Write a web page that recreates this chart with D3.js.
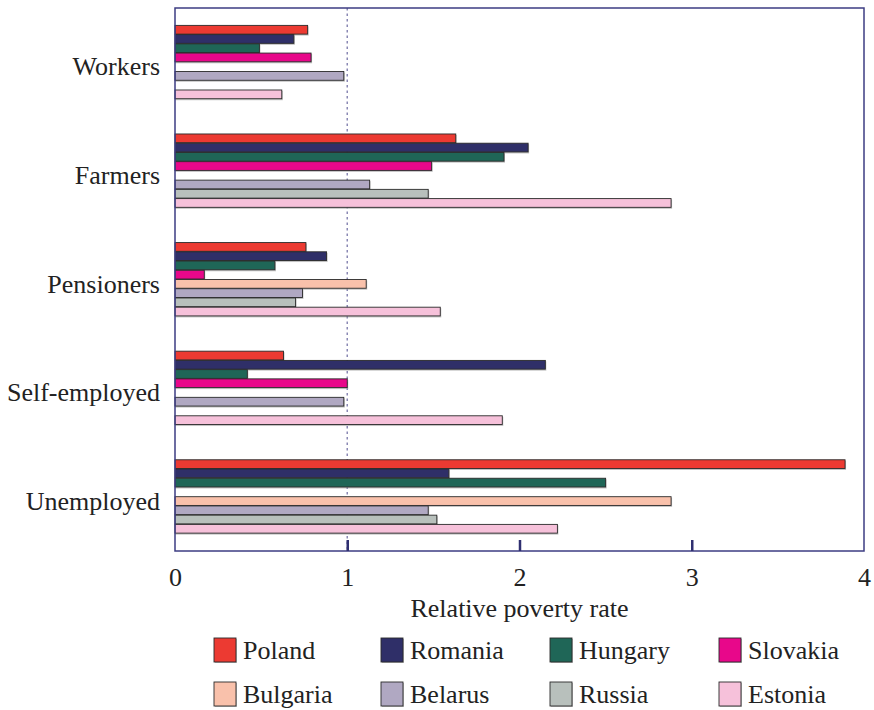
<!DOCTYPE html>
<html>
<head>
<meta charset="utf-8">
<script src="https://cdn.jsdelivr.net/npm/d3@7"></script>
<style>
  html, body { margin: 0; padding: 0; background: #fff; }
  svg { display: block; }
  text { font-family: "Liberation Serif", "Times New Roman", serif; fill: #222; }
</style>
</head>
<body>
<svg id="chart" width="874" height="710"></svg>
<script>
// ---- data ----
const categories = ["Workers", "Farmers", "Pensioners", "Self-employed", "Unemployed"];
const countries = ["Poland", "Romania", "Hungary", "Slovakia", "Bulgaria", "Belarus", "Russia", "Estonia"];
const colors = ["#ec3a32", "#2f2f68", "#1f6657", "#e8078a", "#f9c1ab", "#b0a8c2", "#b8c0bc", "#f6c1da"];
// values per country, in category order (null = no data)
const poland   = [0.77, 1.63, 0.76, 0.63, 3.89];
const romania  = [0.69, 2.05, 0.88, 2.15, 1.59];
const hungary  = [0.49, 1.91, 0.58, 0.42, 2.50];
const slovakia = [0.79, 1.49, 0.17, 1.00, null];
const bulgaria = [null, null, 1.11, null, 2.88];
const belarus  = [0.98, 1.13, 0.74, 0.98, 1.47];
const russia   = [null, 1.47, 0.70, null, 1.52];
const estonia  = [0.62, 2.88, 1.54, 1.90, 2.22];
const seriesValues = [poland, romania, hungary, slovakia, bulgaria, belarus, russia, estonia];
const xTicks = [0, 1, 2, 3, 4];
const xTitle = "Relative poverty rate";

// ---- layout ----
const svg = d3.select("#chart");
const L = 175, R = 864, T = 8, B = 551;
const FS = 26;

const x = d3.scaleLinear().domain([0, 4]).range([L, R]);
const y0 = d3.scaleBand().domain(categories).range([T, B]).paddingInner(0.32).paddingOuter(0.16);
const y1 = d3.scaleBand().domain(countries).range([0, y0.bandwidth()]);

// reference dashed line at 1
svg.append("line")
  .attr("x1", x(1)).attr("x2", x(1))
  .attr("y1", T).attr("y2", B)
  .attr("stroke", "#8a88b4").attr("stroke-width", 1.5)
  .attr("stroke-dasharray", "2.5,3");

// bars
const barData = [];
categories.forEach((c, ci) => {
  countries.forEach((k, ki) => {
    const v = seriesValues[ki][ci];
    if (v != null) barData.push({ cat: c, country: k, value: v, color: colors[ki] });
  });
});

const g = svg.append("g");
// soft shadow
g.selectAll("rect.shadow").data(barData).join("rect")
  .attr("class", "shadow")
  .attr("x", x(0))
  .attr("y", d => y0(d.cat) + y1(d.country) + 1)
  .attr("width", d => x(d.value) - x(0) + 1)
  .attr("height", y1.bandwidth())
  .attr("fill", "#9a9a9a").attr("opacity", 0.6);
g.selectAll("rect.bar").data(barData).join("rect")
  .attr("class", "bar")
  .attr("x", x(0))
  .attr("y", d => y0(d.cat) + y1(d.country))
  .attr("width", d => x(d.value) - x(0))
  .attr("height", y1.bandwidth() - 0.5)
  .attr("fill", d => d.color)
  .attr("stroke", "#2a2a2a").attr("stroke-width", 0.9);

// frame
svg.append("rect")
  .attr("x", L).attr("y", T).attr("width", R - L).attr("height", B - T)
  .attr("fill", "none").attr("stroke", "#3d3d82").attr("stroke-width", 1.5);

// x axis (ticks pointing inward)
const xAxis = svg.append("g")
  .attr("transform", `translate(0,${B})`)
  .call(d3.axisBottom(x).tickValues(xTicks).tickFormat(d3.format("d"))
    .tickSizeInner(-11).tickSizeOuter(0).tickPadding(17));
xAxis.select(".domain").remove();
xAxis.selectAll(".tick line").attr("stroke", "#2f2f70").attr("stroke-width", 2.5)
  .attr("display", d => (d === 0 || d === 4) ? "none" : null);
xAxis.selectAll(".tick text").attr("font-size", FS).attr("fill", "#222")
  .attr("font-family", "Liberation Serif, serif");

svg.append("text")
  .attr("x", (x(0) + x(4)) / 2).attr("y", 617)
  .attr("text-anchor", "middle").attr("font-size", FS)
  .text(xTitle);

// category axis
const yAxis = svg.append("g")
  .attr("transform", `translate(${L},0)`)
  .call(d3.axisLeft(y0).tickSize(0).tickPadding(15));
yAxis.select(".domain").remove();
yAxis.selectAll(".tick text").attr("font-size", FS).attr("fill", "#222")
  .attr("dy", "0.5em").attr("font-family", "Liberation Serif, serif");

// legend
const legendCols = [214, 381, 550, 719];
const legendRows = [638, 682];
const lg = svg.append("g");
countries.forEach((k, i) => {
  const cx = legendCols[i % 4], cy = legendRows[Math.floor(i / 4)];
  lg.append("rect").attr("x", cx + 1).attr("y", cy + 1).attr("width", 22).attr("height", 24)
    .attr("fill", "#999").attr("opacity", 0.6);
  lg.append("rect").attr("x", cx).attr("y", cy).attr("width", 22).attr("height", 24)
    .attr("fill", colors[i]).attr("stroke", "#2a2a2a").attr("stroke-width", 0.9);
  lg.append("text").attr("x", cx + 29).attr("y", cy + 21)
    .attr("font-size", FS).text(k);
});
</script>
</body>
</html>
